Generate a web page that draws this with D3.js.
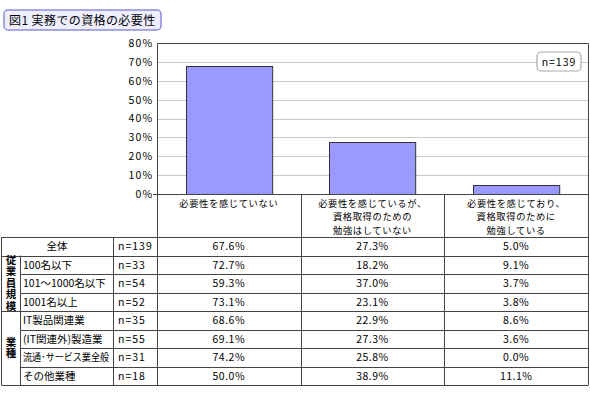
<!DOCTYPE html>
<html><head><meta charset="utf-8">
<script src="https://cdn.jsdelivr.net/npm/d3@7"></script>
<style>
body{margin:0;background:#fff;}
text{font-family:"Noto Sans CJK JP","Noto Sans",sans-serif;fill:#000;}
</style></head>
<body><svg id="c" width="590" height="400"></svg>
<script>
const title = "図1 実務での資格の必要性";
const categories = [
  ["必要性を感じていない"],
  ["必要性を感じているが、","資格取得のための","勉強はしていない"],
  ["必要性を感じており、","資格取得のために","勉強している"]
];
const yTicks = [0,10,20,30,40,50,60,70,80];
const overallValues = [67.6, 27.3, 5.0];
const nTotal = "n=139";
const rowLabels = ["全体","100名以下","101～1000名以下","1001名以上","IT製品関連業","(IT関連外)製造業","流通･サービス業全般","その他業種"];
const rowN = ["n=139","n=33","n=54","n=52","n=35","n=55","n=31","n=18"];
const col1 = [67.6, 72.7, 59.3, 73.1, 68.6, 69.1, 74.2, 50.0];
const col2 = [27.3, 18.2, 37.0, 23.1, 22.9, 27.3, 25.8, 38.9];
const col3 = [5.0, 9.1, 3.7, 3.8, 8.6, 3.6, 0.0, 11.1];
const groups = [{label:"従業員規模", from:1, to:3},{label:"業種", from:4, to:7}];

const svg = d3.select("#c");
const L=157, R=588, T=43, B=194;
const x = d3.scaleBand().domain(d3.range(categories.length)).range([L,R]).paddingInner(0.4).paddingOuter(0.2);
const y = d3.scaleLinear().domain([0,80]).range([B,T]);

// title
svg.append("rect").attr("x",4).attr("y",10).attr("width",157).attr("height",20).attr("rx",4)
  .attr("fill","#eeeeff").attr("stroke","#8c8ce0").attr("stroke-width",1.5);
svg.append("text").attr("x",9).attr("y",25).attr("font-size",12).attr("letter-spacing",0.4).text(title);

// gridlines
svg.append("g").selectAll("line").data(yTicks.filter(d=>d>0&&d<80)).join("line")
  .attr("x1",L).attr("x2",R).attr("y1",d=>Math.round(y(d))+0.5).attr("y2",d=>Math.round(y(d))+0.5)
  .attr("stroke","#c8c8c8");

// y axis
const ya = svg.append("g").attr("transform",`translate(${L+0.5},0)`)
  .call(d3.axisLeft(y).tickValues(yTicks).tickSize(0).tickPadding(4).tickFormat(d=>d+"%"));
ya.select(".domain").remove();
ya.selectAll("text").attr("font-size",10.5).attr("letter-spacing",1.2).attr("font-family","\"Noto Sans CJK JP\",sans-serif");

// bars
svg.append("g").selectAll("rect").data(overallValues).join("rect")
  .attr("x",(d,i)=>Math.round(x(i))+0.5).attr("y",d=>Math.round(y(d))+0.5)
  .attr("width",x.bandwidth()).attr("height",d=>B-Math.round(y(d)))
  .attr("fill","#9999ff").attr("stroke","#333").attr("stroke-width",1);

// plot frame
svg.append("path").attr("d",`M${L-4},${B+0.5}H${R+0.5}V${T+0.5}H${L+0.5}V${B}`)
  .attr("fill","none").attr("stroke","#444");

// n box
svg.append("rect").attr("x",537).attr("y",52).attr("width",44).attr("height",19).attr("rx",4)
  .attr("fill","#fff").attr("stroke","#aaa").attr("stroke-width",1.2);
svg.append("text").attr("x",559).attr("y",65.5).attr("text-anchor","middle").attr("font-size",10.5).attr("letter-spacing",1).text(nTotal);

// table
const colEdges = [L, ...d3.range(categories.length).map(i=>L + x.step()*(i+1))];
colEdges[colEdges.length-1]=R;
const hdrTop=B, rowTop=237, rowH=18.5, nRows=rowLabels.length, tblBottom=rowTop+rowH*nRows;
const g = svg.append("g");
const line=(x1,y1,x2,y2)=>g.append("line").attr("x1",x1).attr("y1",y1).attr("x2",x2).attr("y2",y2).attr("stroke","#444");
colEdges.forEach(e=>line(Math.round(e)+0.5,hdrTop,Math.round(e)+0.5,tblBottom));
// header labels
categories.forEach((lines,i)=>{
  const cx=(colEdges[i]+colEdges[i+1])/2;
  const t=g.append("text").attr("text-anchor","middle").attr("font-size",9.3).attr("letter-spacing",0.6);
  lines.forEach((s,j)=>t.append("tspan").attr("x",cx).attr("y",hdrTop+12.5+j*13.7).text(s));
});
line(1.5,rowTop,1.5,tblBottom);
line(20.5,rowTop+rowH,20.5,tblBottom);
line(113.5,rowTop,113.5,tblBottom);
for(let r=0;r<=nRows;r++){
  const yy=Math.round(rowTop+r*rowH)+0.5;
  const inGroup = groups.some(gr=>r>gr.from && r<=gr.to);
  line(inGroup?20.5:1.5,yy,R+0.5,yy);
}
rowLabels.forEach((lab,r)=>{
  const cy=rowTop+r*rowH+rowH/2+4;
  if(r===0) g.append("text").attr("x",57).attr("y",cy).attr("text-anchor","middle").attr("font-size",10.5).text(lab);
  else {
    const t=g.append("text").attr("x",23).attr("y",cy).attr("font-size",10.5).text(lab);
    if(t.node().getComputedTextLength()>86){ t.attr("font-size",10).attr("textLength",86).attr("lengthAdjust","spacingAndGlyphs"); }
  }
  g.append("text").attr("x",118).attr("y",cy).attr("font-size",10.5).attr("letter-spacing",1).text(rowN[r]);
  [col1,col2,col3].forEach((col,c)=>{
    g.append("text").attr("x",(colEdges[c]+colEdges[c+1])/2).attr("y",cy).attr("text-anchor","middle")
      .attr("font-size",10.5).attr("letter-spacing",0.5).text(col[r].toFixed(1)+"%");
  });
});
// vertical group labels (vertical writing mode)
groups.forEach(gr=>{
  const top=rowTop+gr.from*rowH, bot=rowTop+(gr.to+1)*rowH;
  g.append("text").attr("x",11).attr("y",(top+bot)/2)
    .attr("writing-mode","vertical-rl").style("writing-mode","vertical-rl")
    .attr("text-anchor","middle").attr("letter-spacing",1)
    .attr("font-size",10.5).attr("font-weight","bold").text(gr.label);
});
</script></body></html>
